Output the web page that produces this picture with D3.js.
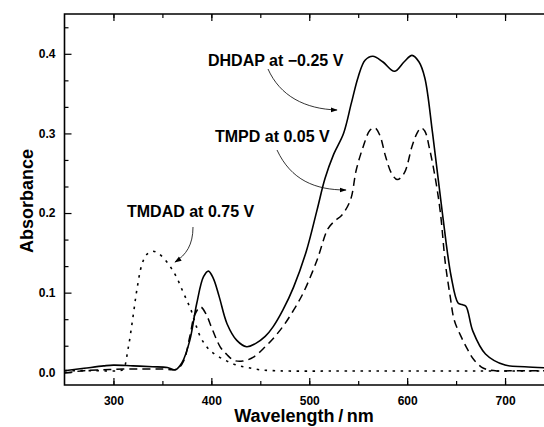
<!DOCTYPE html>
<html><head><meta charset="utf-8">
<script src="https://cdn.jsdelivr.net/npm/d3@7"></script>
<style>
html,body{margin:0;padding:0;background:#fff;}
svg text{font-family:"Liberation Sans",Arial,Helvetica,sans-serif;fill:#000;}
</style></head>
<body><svg id="c" width="544" height="427"></svg>
<script>
// ---- data ----
const dhdapW = [250,270,290,300,320,340,355,363,370,378,385,392,397,402,408,416,426,436,445,455,463,473,484,497,508,516,525,535,543,550,557,565,575,587,597,605,612,618,626,636,645,652,656,660,667,680,700,720,750];
const dhdapV = [0.002,0.005,0.008,0.009,0.008,0.007,0.006,0.003,0.012,0.04,0.086,0.12,0.127,0.118,0.095,0.061,0.04,0.032,0.036,0.045,0.057,0.078,0.107,0.152,0.204,0.243,0.274,0.30,0.338,0.371,0.392,0.397,0.39,0.378,0.39,0.398,0.39,0.37,0.30,0.2,0.12,0.087,0.085,0.083,0.052,0.023,0.009,0.007,0.005];

const tmpdW = [250,270,290,310,330,350,365,372,378,383,389,395,400,409,416,423,432,443,455,465,474,484,494,508,519,526,533,542,548,555,562,567,572,578,584,590,597,605,610,614,618,623,629,634,639,644,648,655,662,668,678,690,710,750];
const tmpdV = [-0.001,0.002,0.003,0.004,0.004,0.004,0.004,0.015,0.045,0.072,0.082,0.072,0.057,0.032,0.022,0.015,0.014,0.019,0.032,0.045,0.059,0.078,0.1,0.141,0.18,0.19,0.197,0.216,0.254,0.283,0.304,0.307,0.298,0.271,0.25,0.242,0.25,0.284,0.30,0.307,0.303,0.28,0.242,0.2,0.137,0.095,0.066,0.045,0.028,0.016,0.005,0.002,0.002,0.002];

const tmdadW = [250,280,305,310,315,320,324,329,334,340,345,350,355,360,365,370,375,379,384,389,394,399,407,416,426,437,450,463,480,520,600,700,750];
const tmdadV = [0.002,0.002,0.002,0.004,0.03,0.07,0.104,0.135,0.148,0.152,0.150,0.145,0.138,0.129,0.118,0.104,0.09,0.079,0.06,0.044,0.034,0.027,0.02,0.014,0.009,0.006,0.003,0.002,0.0015,0.0015,0.0015,0.0015,0.0015];

const xMajor = [300,400,500,600,700];
const xMinor = [300,350,400,450,500,550,600,650,700];
const yMajor = [0.0,0.1,0.2,0.3,0.4];
const yTickLabels = ["0.0","0.1","0.2","0.3","0.4"];
const yMinor = [0.1/3,0.2/3,0.4/3,0.5/3,0.7/3,0.8/3,1.0/3,1.1/3,1.3/3];

const labels = [
  {text:"DHDAP at \u22120.25 V", x:208, y:66},
  {text:"TMPD at 0.05 V", x:215, y:142},
  {text:"TMDAD at 0.75 V", x:127, y:217}
];

// ---- scales ----
const svg = d3.select("#c");
const x = d3.scaleLinear().domain([250,750]).range([64.5,554]);
const y = d3.scaleLinear().domain([-0.016,0.45]).range([385,14]);
const L = 64.5, T = 14, B = 385, R = 544;

// defs
const defs = svg.append("defs");
defs.append("clipPath").attr("id","clip").append("rect")
  .attr("x",L).attr("y",T).attr("width",R-L+10).attr("height",B-T);
defs.append("marker").attr("id","ah").attr("viewBox","0 0 10 10")
  .attr("refX",9).attr("refY",5).attr("markerWidth",7).attr("markerHeight",7)
  .attr("markerUnits","userSpaceOnUse").attr("orient","auto")
  .append("path").attr("d","M0,1.5 L10,5 L0,8.5 Z").attr("fill","#000");

// curves
const line = d3.line().x(d=>x(d[0])).y(d=>y(d[1])).curve(d3.curveCatmullRom.alpha(0.5));
const g = svg.append("g").attr("clip-path","url(#clip)");
g.append("path").datum(d3.zip(tmdadW,tmdadV)).attr("d",line)
  .attr("fill","none").attr("stroke","#000").attr("stroke-width",1.6).attr("stroke-dasharray","2.5,5.5");
g.append("path").datum(d3.zip(tmpdW,tmpdV)).attr("d",line)
  .attr("fill","none").attr("stroke","#000").attr("stroke-width",1.5).attr("stroke-dasharray","8,5");
g.append("path").datum(d3.zip(dhdapW,dhdapV)).attr("d",line)
  .attr("fill","none").attr("stroke","#000").attr("stroke-width",1.6);

// axes
const axB = svg.append("g").attr("transform",`translate(0,${B})`)
  .call(d3.axisBottom(x).tickValues(xMinor).tickSize(-4).tickFormat(""));
const axB2 = svg.append("g").attr("transform",`translate(0,${B})`)
  .call(d3.axisBottom(x).tickValues(xMajor).tickSize(-7).tickPadding(11).tickFormat(d3.format("d")));
const axT = svg.append("g").attr("transform",`translate(0,${T})`)
  .call(d3.axisTop(x).tickValues(xMinor).tickSize(-4).tickFormat(""));
const axT2 = svg.append("g").attr("transform",`translate(0,${T})`)
  .call(d3.axisTop(x).tickValues(xMajor).tickSize(-7).tickFormat(""));
const axL = svg.append("g").attr("transform",`translate(${L},0)`)
  .call(d3.axisLeft(y).tickValues(yMinor).tickSize(-4).tickFormat(""));
const axL2 = svg.append("g").attr("transform",`translate(${L},0)`)
  .call(d3.axisLeft(y).tickValues(yMajor).tickSize(-7).tickPadding(9).tickFormat((d,i)=>yTickLabels[i]));
[axB,axB2,axT,axT2,axL,axL2].forEach(a=>{
  a.select(".domain").remove();
  a.selectAll(".tick line").attr("stroke","#000").attr("stroke-width",1.2);
  a.selectAll(".tick text").attr("font-size",12).attr("font-weight","bold")
    .style("font-family","'Liberation Sans',Arial,sans-serif").attr("fill","#111");
});
// frame lines
svg.append("path").attr("d",`M${R+2},${T} H${L} V${B} H${R+2}`)
  .attr("fill","none").attr("stroke","#000").attr("stroke-width",1.6);

// axis titles
svg.append("text").attr("x",304).attr("y",422).attr("text-anchor","middle")
  .attr("font-size",18).attr("font-weight","bold").text("Wavelength\u2009/\u2009nm");
svg.append("text").attr("transform","translate(33,201) rotate(-90)").attr("text-anchor","middle")
  .attr("font-size",18).attr("font-weight","bold").text("Absorbance");

// annotations
labels.forEach(l=>{
  svg.append("text").attr("x",l.x).attr("y",l.y).attr("font-size",16).attr("font-weight","bold").text(l.text);
});
const arrows = [
  "M268,69 C280,96 305,109 337,110",
  "M277,150 C291,180 315,190 346,190",
  "M193,227 C193,245 186,255 175,262"
];
arrows.forEach(a=>{
  svg.append("path").attr("d",a).attr("fill","none").attr("stroke","#000")
    .attr("stroke-width",0.8).attr("marker-end","url(#ah)");
});
</script></body></html>
